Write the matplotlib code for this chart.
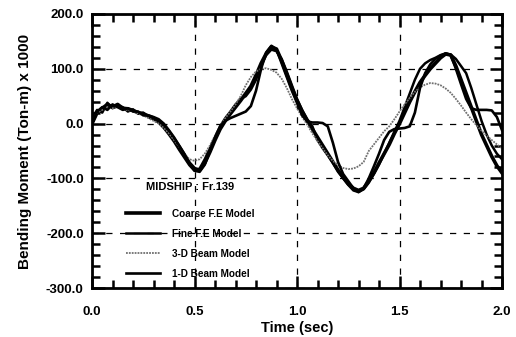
import numpy as np
import matplotlib
matplotlib.use("Agg")
import matplotlib.pyplot as plt
from matplotlib.ticker import MultipleLocator, FormatStrFormatter

# time axis (sec), every 0.025 s
time = np.linspace(0.0, 2.0, 81)

coarse_fe = [0, 20, 28, 35, 30, 35, 28, 27, 24, 20,
             18, 14, 10, 4, -5, -15, -28, -42, -57, -72,
             -82, -85, -72, -52, -30, -10, 5, 18, 30, 42,
             55, 68, 88, 110, 128, 140, 136, 115, 90, 65,
             42, 22, 5, -10, -25, -40, -55, -70, -85, -98,
             -110, -118, -122, -118, -105, -90, -72, -55, -38, -18,
             0, 20, 40, 58, 75, 88, 100, 110, 120, 127,
             125, 105, 80, 55, 30, 5, -20, -40, -60, -77,
             -90]

fine_fe = [10, 25, 20, 38, 28, 32, 30, 22, 26, 18,
           20, 12, 8, 2, -8, -20, -33, -48, -62, -76,
           -86, -82, -65, -45, -25, -5, 10, 22, 35, 45,
           50, 62, 80, 105, 125, 135, 132, 118, 95, 70,
           45, 25, 8, -5, -30, -45, -58, -72, -88, -100,
           -112, -122, -125, -120, -108, -92, -75, -55, -35, -15,
           5, 30, 55, 80, 100, 110, 116, 120, 125, 128,
           126, 118, 105, 92, 65, 35, 5, -20, -40, -55,
           -65]

beam_3d = [5, 20, 25, 30, 28, 30, 25, 25, 22, 18,
           15, 10, 5, 0, -8, -18, -30, -42, -55, -65,
           -68, -65, -55, -40, -22, -5, 10, 22, 35, 50,
           70, 85, 95, 100, 101, 98, 93, 82, 65, 45,
           28, 12, -2, -18, -32, -45, -58, -68, -76, -81,
           -83, -82, -78, -70, -50, -38, -26, -14, -5, 8,
           22, 35, 47, 58, 66, 71, 74, 73, 70, 64,
           56, 45, 33, 20, 8, -3, -13, -22, -30, -38,
           -45]

beam_1d = [0, 22, 30, 25, 35, 30, 25, 28, 22, 22,
           15, 15, 12, 8, 0, -12, -25, -40, -55, -72,
           -86, -88, -75, -50, -25, -5, 5, 10, 14, 18,
           22, 32, 60, 100, 130, 142, 135, 110, 85, 60,
           38, 15, 4, 2, 2, 1, -5, -35, -70, -92,
           -105, -118, -125, -118, -100, -78, -55, -30, -15, -10,
           -9, -8, -5, 20, 65, 92, 108, 118, 124, 128,
           125, 100, 72, 45, 28, 25, 25, 25, 24, 12,
           -12]

bold = {'fontweight': 'bold', 'family': 'Liberation Sans'}

fig = plt.figure(figsize=(5.16, 3.37), dpi=100)
ax = fig.add_axes([0.1783, 0.1454, 0.7946, 0.8131])

ax.plot(time, coarse_fe, color='black', lw=2.6, label='Coarse F.E Model')
ax.plot(time, fine_fe, color='black', lw=1.8, label='Fine F.E Model')
ax.plot(time, beam_3d, color='#707070', lw=1.3, ls=(0, (1, 0.6)), label='3-D Beam Model')
ax.plot(time, beam_1d, color='black', lw=1.9, label='1-D Beam Model')

ax.set_xlim(0, 2.0)
ax.set_ylim(-300, 200)
ax.xaxis.set_major_locator(MultipleLocator(0.5))
ax.xaxis.set_minor_locator(MultipleLocator(0.1))
ax.yaxis.set_major_locator(MultipleLocator(100))
ax.yaxis.set_minor_locator(MultipleLocator(20))
ax.xaxis.set_major_formatter(FormatStrFormatter('%.1f'))
ax.yaxis.set_major_formatter(FormatStrFormatter('%.1f'))
ax.tick_params(which='both', direction='in', top=True, right=True, width=1.8)
ax.tick_params(which='major', length=9)
ax.tick_params(which='minor', length=6)
ax.tick_params(axis='x', which='major', pad=13)
ax.tick_params(axis='y', which='major', pad=6)
for lab in ax.get_xticklabels() + ax.get_yticklabels():
    lab.set_fontweight('bold')
    lab.set_family('Liberation Sans')
    lab.set_fontsize(9.5)
for s in ax.spines.values():
    s.set_linewidth(2)

ax.grid(True, which='major', color='black', lw=0.9, ls=(0, (5, 6)))

ax.set_xlabel('Time (sec)', fontsize=10.5, labelpad=2, **bold)
ax.set_ylabel('Bending Moment (Ton-m) x 1000', fontsize=11, labelpad=10, **bold)

leg = ax.legend(loc='upper left', bbox_to_anchor=(0.07, 0.405), frameon=False,
                title='MIDSHIP : Fr.139', handlelength=3.4, handletextpad=1.2,
                labelspacing=1.0, borderpad=0,
                prop={'weight': 'bold', 'size': 7.2, 'family': 'Liberation Sans'})
leg.get_title().set_fontweight('bold')
leg.get_title().set_fontsize(8)
leg.get_title().set_family('Liberation Sans')
leg._legend_box.sep = 12

fig.savefig('out.png', dpi=100)
